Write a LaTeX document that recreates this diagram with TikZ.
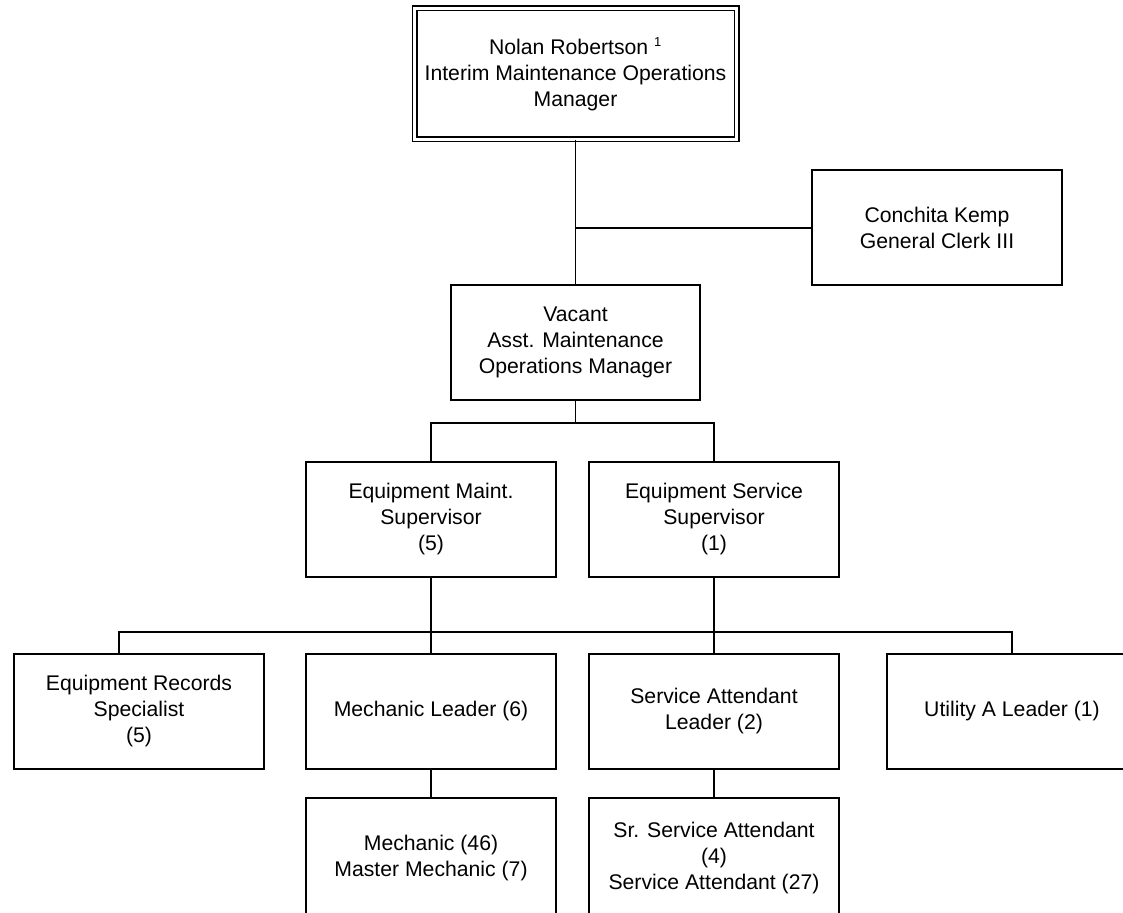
\documentclass[tikz,border=0pt]{standalone}
\usepackage{fontspec}
\setmainfont{Liberation Sans}
\begin{document}
\begin{tikzpicture}[x=1pt,y=-1pt,
  box/.style={draw=black, line width=1.6pt, fill=white, minimum width=250pt, minimum height=115pt,
    inner sep=0pt, align=center, font=\fontsize{21.2}{26}\selectfont},
  topbox/.style={box, double=white, double distance=3pt, line width=1.5pt, minimum width=322pt, minimum height=131pt},
  link/.style={line width=1.6pt, draw=black}]
\useasboundingbox (0,0) rectangle (1123,912);
\clip (0,0) rectangle (1123,912);
\node[topbox] (top) at (575.5,74) {Nolan Robertson \textsuperscript{\fontsize{13}{13}\selectfont 1}\\Interim Maintenance Operations\\Manager};
\node[box] (clerk) at (937,227.5) {Conchita Kemp\\General Clerk III};
\node[box, minimum width=249pt] (vac) at (575.5,342.5) {Vacant\\Asst. Maintenance\\Operations Manager};
\node[box] (maint) at (431,519.5) {Equipment Maint.\\Supervisor\\(5)};
\node[box] (serv) at (714,519.5) {Equipment Service\\Supervisor\\(1)};
\node[box] (rec) at (139,711.5) {Equipment Records\\Specialist\\(5)};
\node[box] (mlead) at (431,711.5) {Mechanic Leader (6)};
\node[box] (salead) at (714,711.5) {Service Attendant\\Leader (2)};
\node[box] (util) at (1012,711.5) {Utility A Leader (1)};
\node[box, minimum height=120pt] (mech) at (431,858) {Mechanic (46)\\Master Mechanic (7)};
\node[box, minimum height=120pt] (sr) at (714,858) {Sr. Service Attendant\\(4)\\Service Attendant (27)};
% connectors
\coordinate (b1) at (575.5,228);
\coordinate (b2) at (575.5,423);
\coordinate (b3) at (431,632);
\coordinate (recin) at (119,654);
\draw[link] (top.south) -- (vac.north);
\draw[link] (b1) -- (clerk.west |- b1);
\draw[link] (vac.south) -- (b2);
\draw[link] (maint.north) |- (b2) -| (serv.north);
\draw[link] (maint.south) -- (b3);
\draw[link] (serv.south) -- (serv.south |- b3);
\draw[link] (recin) |- (b3) -| (util.north);
\draw[link] (mlead.north) -- (mlead.north |- b3);
\draw[link] (salead.north) -- (salead.north |- b3);
\draw[link] (mlead.south) -- (mech.north);
\draw[link] (salead.south) -- (sr.north);
\end{tikzpicture}
\end{document}
